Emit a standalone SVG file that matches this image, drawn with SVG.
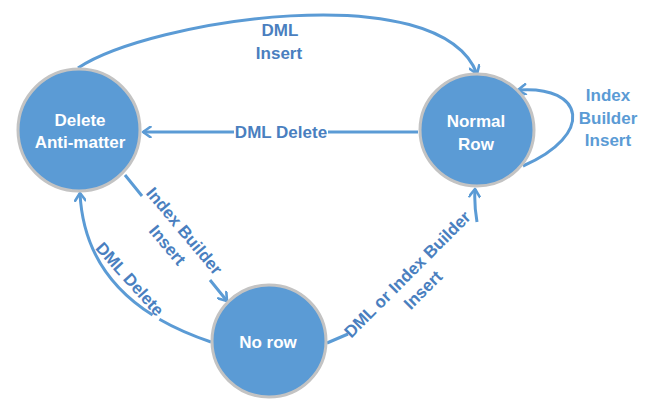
<svg xmlns="http://www.w3.org/2000/svg" width="647" height="399" viewBox="0 0 647 399">
  <style>
    .node { fill: #5b9bd5; stroke: #c3c3c3; stroke-width: 3; }
    .ntext { font-family: "Liberation Sans", Arial, sans-serif; font-weight: bold; font-size: 17px; fill: #ffffff; text-anchor: middle; }
    .edge { fill: none; stroke: #5b9bd5; stroke-width: 3; }
    .lbl { font-family: "Liberation Sans", Arial, sans-serif; font-weight: bold; font-size: 17px; fill: #4a7fbf; text-anchor: middle; }
    .lbl2 { fill: #5b9bd5; }
  </style>
  <defs>
    <marker id="arr" viewBox="0 0 12 12" refX="10" refY="6" markerWidth="12" markerHeight="12" markerUnits="userSpaceOnUse" orient="auto">
      <path d="M2.5,0.8 L10,6 L2.5,11.2" fill="none" stroke="#5b9bd5" stroke-width="2.6" stroke-linecap="round" stroke-linejoin="round"/>
    </marker>
  </defs>
  <rect width="647" height="399" fill="#ffffff"/>

  <g id="connectors">
    <path id="e-dml-insert" class="edge" d="M78,68 C150,20 440,-25 477,74" marker-end="url(#arr)"/>
    <path id="e-dml-delete-top" class="edge" d="M418,132 L328,132 M234,132 L143,132" marker-end="url(#arr)"/>
    <path id="e-self" class="edge" d="M523,166 C595,135 585,85 518,90" marker-end="url(#arr)"/>
    <path id="e-ib-insert" class="edge" d="M125,175 L142,196 M210,280 L227,301" marker-end="url(#arr)"/>
    <path id="e-dml-delete-bottom" class="edge" d="M211,342 Q182,332.3 159.4,319.3 M152.6,315.1 Q83.7,271.6 80,193" marker-end="url(#arr)"/>
    <path id="e-dml-or-ib" class="edge" d="M327,343 L348,334 M477,222 Q474,205 475,189" marker-end="url(#arr)"/>

    <text class="lbl"><tspan x="280" y="36">DML</tspan><tspan x="279" y="59">Insert</tspan></text>
    <text class="lbl" x="281" y="138">DML Delete</text>
    <text class="lbl lbl2"><tspan x="608" y="101">Index</tspan><tspan x="608" y="124">Builder</tspan><tspan x="608" y="146">Insert</tspan></text>
    <g transform="translate(176,238) rotate(50)">
      <text class="lbl"><tspan x="0" y="-5">Index Builder</tspan><tspan x="0" y="17">Insert</tspan></text>
    </g>
    <g transform="translate(130,279) rotate(48)">
      <text class="lbl" x="0" y="6">DML Delete</text>
    </g>
    <g transform="translate(415,282) rotate(-45)">
      <text class="lbl"><tspan x="0" y="-5">DML or Index Builder</tspan><tspan x="0" y="17">Insert</tspan></text>
    </g>
  </g>

  <g id="node-delete-anti-matter">
    <ellipse class="node" cx="79" cy="130" rx="61" ry="61"/>
    <text class="ntext"><tspan x="80" y="126">Delete</tspan><tspan x="80" y="148">Anti-matter</tspan></text>
  </g>
  <g id="node-normal-row">
    <ellipse class="node" cx="477" cy="130" rx="57" ry="56"/>
    <text class="ntext"><tspan x="476" y="127">Normal</tspan><tspan x="476" y="150">Row</tspan></text>
  </g>
  <g id="node-no-row">
    <ellipse class="node" cx="269" cy="341" rx="57" ry="56"/>
    <text class="ntext" x="268" y="348">No row</text>
  </g>
</svg>
